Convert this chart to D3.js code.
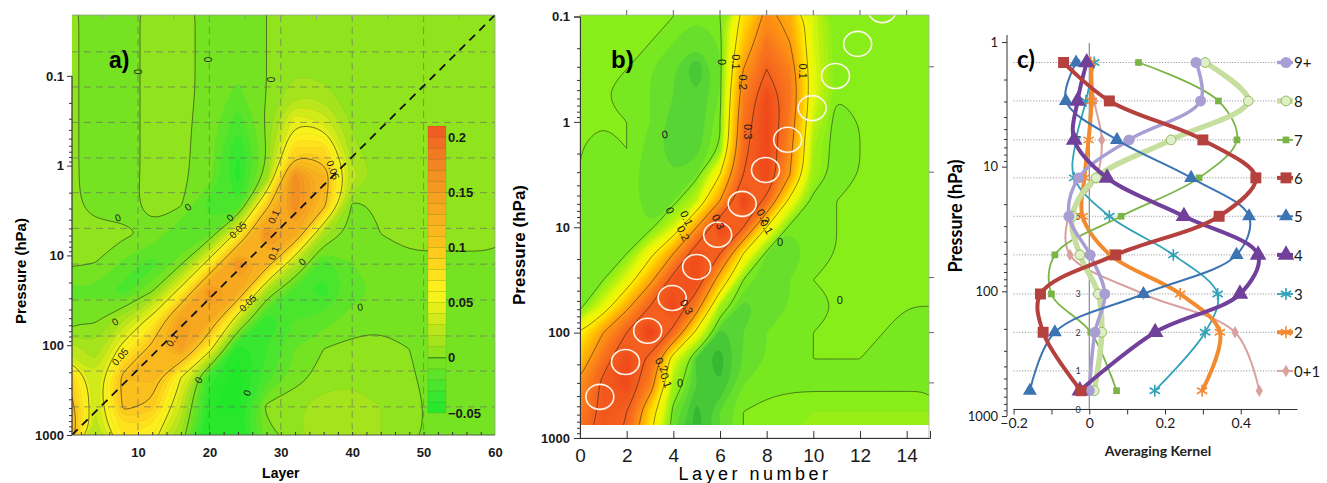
<!DOCTYPE html>
<html>
<head>
<meta charset="utf-8">
<script src="https://cdn.jsdelivr.net/npm/d3@7"></script>
<style>
  body { margin: 0; background: #fff; }
  svg { display: block; }
</style>
</head>
<body>
<svg id="chart" width="1327" height="483"></svg>
<script>
// ---------------- panel a : averaging kernel field (layer x pressure) ----------------
const layersA = [0, 4, 8, 12, 16, 20, 24, 28, 32, 36, 40, 44, 48, 52, 56, 60];
const logpA = [3.0, 2.68, 2.36, 2.04, 1.72, 1.4, 1.08, 0.76, 0.44, 0.12, -0.2, -0.52, -0.84, -1.16, -1.48, -1.8];
// rows from 1000 hPa upwards, columns follow layersA
const fieldA = [
  [0.14, 0.025, 0.07, 0.06, 0.01, -0.05, -0.045, -0.005, 0.008, 0.018, 0.015, 0.01, 0.003, -0.004, -0.004, -0.003],
  [0.13, 0.03, 0.105, 0.095, 0.03, -0.05, -0.055, 0.003, 0.008, 0.015, 0.015, 0.01, 0.003, -0.003, -0.004, -0.003],
  [0.1, 0.03, 0.11, 0.115, 0.05, -0.035, -0.055, -0.025, -0.005, 0.005, 0.008, 0.006, 0.001, -0.003, -0.004, -0.003],
  [0.03, 0.012, 0.06, 0.11, 0.145, 0.06, -0.05, -0.03, -0.01, 0.0, 0.003, 0.003, 0.0, -0.002, -0.003, -0.003],
  [-0.005, -0.002, 0.02, 0.06, 0.15, 0.13, 0.03, -0.04, -0.02, -0.015, -0.005, -0.002, -0.002, -0.002, -0.002, -0.002],
  [-0.012, -0.012, -0.025, 0.0, 0.06, 0.16, 0.13, 0.015, -0.025, -0.035, -0.015, -0.008, -0.006, -0.005, -0.005, -0.005],
  [0.003, 0.0, -0.012, -0.025, -0.005, 0.06, 0.16, 0.12, 0.025, -0.025, -0.01, -0.005, -0.002, -0.002, -0.002, -0.002],
  [0.003, 0.003, 0.002, -0.002, -0.02, -0.015, 0.06, 0.165, 0.13, 0.015, -0.005, 0.0, 0.003, 0.003, 0.003, 0.003],
  [0.003, -0.003, -0.003, 0.003, 0.001, -0.025, -0.03, 0.09, 0.17, 0.11, -0.003, 0.002, 0.003, 0.003, 0.003, 0.003],
  [0.003, -0.004, -0.004, 0.003, 0.002, -0.005, -0.045, 0.005, 0.165, 0.12, 0.025, 0.005, 0.003, 0.003, 0.003, 0.003],
  [0.003, -0.004, -0.004, 0.003, 0.002, -0.004, -0.04, 0.0, 0.08, 0.08, 0.012, 0.004, 0.003, 0.003, 0.003, 0.003],
  [0.003, -0.004, -0.004, 0.003, 0.002, -0.003, -0.025, 0.003, 0.045, 0.035, 0.008, 0.004, 0.003, 0.003, 0.003, 0.003],
  [0.003, -0.004, -0.004, 0.003, 0.002, -0.002, -0.012, 0.0, 0.015, 0.012, 0.005, 0.003, 0.003, 0.003, 0.003, 0.003],
  [0.003, -0.004, -0.004, 0.003, 0.002, -0.002, -0.006, 0.0, 0.006, 0.005, 0.003, 0.003, 0.003, 0.003, 0.003, 0.003],
  [0.003, -0.004, -0.004, 0.003, 0.002, -0.002, -0.004, 0.0, 0.004, 0.004, 0.003, 0.003, 0.003, 0.003, 0.003, 0.003],
  [0.003, -0.004, -0.004, 0.003, 0.002, -0.002, -0.004, 0.0, 0.004, 0.004, 0.003, 0.003, 0.003, 0.003, 0.003, 0.003]
];
const gridLayersA = [10, 20, 30, 40, 50];
const gridPressA = [486, 194, 79, 31.4, 12.5, 5.0, 2.0, 0.82, 0.33, 0.133, 0.054];
const pTicksA = [0.1, 1, 10, 100, 1000];
const xTicksA = [10, 20, 30, 40, 50, 60];
const cbTicksA = [-0.05, 0, 0.05, 0.1, 0.15, 0.2];
const stopValsA = [-0.05, -0.03, -0.01, 0, 0.02, 0.04, 0.06, 0.08, 0.1, 0.13, 0.16, 0.19, 0.21];
const stopColsA = ["#22e82a", "#40e630", "#66e224", "#84e41e", "#b0e41c", "#dcec18", "#fff41c", "#ffdc1e", "#fcc41e", "#f8ac20", "#f49422", "#f27424", "#ef5522"];
// [layer, pressure, text, angle]
const labelsA = [
  [10, 0.09, "0", 90], [19.7, 0.066, "0", 90], [28.5, 0.11, "0", 90],
  [7.2, 3.8, "0", -20], [17.0, 2.9, "0", -35], [22.9, 3.8, "0", -40],
  [24.0, 5.2, "0.05", -45], [29.0, 3.7, "0.1", -65], [29.0, 9.4, "0.1", -70],
  [37.3, 1.12, "0.05", 70], [33.0, 11.8, "0", -45], [25.4, 34, "0.05", -45],
  [41.1, 37.6, "0", -10], [6.8, 55, "0", -30], [14.8, 87, "0.1", -60],
  [7.5, 135, "0.05", -50], [18.5, 245, "0", -60], [25.3, 340, "0", -70], [51.2, 10.7, "0", 0]
];

// ---------------- panel b : Umkehr kernel field ----------------
const layersB = [0, 1, 2, 3, 4, 5, 6, 7, 8, 9, 10, 11, 12, 13, 14, 15];
const logpB = [3.0, 2.75, 2.5, 2.25, 2.0, 1.75, 1.5, 1.25, 1.0, 0.75, 0.5, 0.25, 0.0, -0.25, -0.5, -0.75, -1.0];
const fieldB = [
  [0.28, 0.33, 0.29, 0.11, -0.02, -0.045, -0.02, 0.0, 0.01, 0.01, 0.01, 0.01, 0.01, 0.01, 0.01, 0.01],
  [0.24, 0.32, 0.3, 0.13, -0.01, -0.045, -0.02, 0.0, 0.005, 0.008, 0.01, 0.01, 0.01, 0.01, 0.01, 0.01],
  [0.22, 0.32, 0.36, 0.24, 0.02, -0.03, -0.04, -0.01, -0.005, -0.003, -0.003, -0.003, -0.003, -0.003, -0.003, -0.003],
  [0.15, 0.27, 0.36, 0.28, 0.06, -0.035, -0.045, -0.02, -0.01, -0.002, 0.0, 0.0, 0.0, -0.002, -0.003, -0.003],
  [0.1, 0.2, 0.3, 0.38, 0.28, 0.08, -0.035, -0.02, -0.01, -0.002, 0.0, 0.0, 0.0, 0.0, -0.002, -0.002],
  [-0.01, 0.06, 0.18, 0.3, 0.37, 0.24, 0.02, -0.025, -0.015, -0.01, -0.002, 0.0, 0.0, 0.0, 0.0, 0.0],
  [-0.01, 0.0, 0.06, 0.18, 0.33, 0.35, 0.16, 0.0, -0.02, -0.01, 0.0, 0.0, 0.0, 0.0, 0.0, 0.0],
  [-0.005, -0.005, 0.0, 0.08, 0.2, 0.35, 0.3, 0.1, -0.01, -0.02, -0.005, 0.0, 0.0, 0.0, 0.0, 0.0],
  [0.0, -0.005, -0.005, -0.01, 0.05, 0.2, 0.37, 0.3, 0.1, -0.01, -0.01, 0.0, 0.0, 0.0, 0.0, 0.0],
  [0.0, -0.005, -0.005, -0.015, -0.01, 0.04, 0.2, 0.37, 0.28, 0.08, -0.01, 0.0, 0.0, 0.0, 0.0, 0.0],
  [0.0, -0.005, -0.005, -0.015, -0.02, -0.01, 0.1, 0.3, 0.37, 0.2, 0.02, -0.01, 0.0, 0.0, 0.0, 0.0],
  [0.0, -0.005, 0.0, -0.015, -0.025, -0.025, 0.0, 0.28, 0.36, 0.22, 0.02, -0.01, 0.0, 0.0, 0.0, 0.0],
  [0.0, 0.0, 0.0, -0.01, -0.025, -0.03, 0.0, 0.26, 0.37, 0.24, 0.04, -0.01, 0.0, 0.0, 0.0, 0.0],
  [0.0, 0.0, -0.005, -0.01, -0.02, -0.03, -0.01, 0.24, 0.35, 0.26, 0.06, 0.0, 0.0, 0.0, 0.0, 0.0],
  [0.0, 0.0, 0.0, -0.01, -0.02, -0.04, -0.01, 0.2, 0.3, 0.24, 0.06, 0.0, 0.0, 0.0, 0.0, 0.0],
  [0.0, 0.0, 0.0, 0.0, -0.01, -0.02, -0.01, 0.15, 0.26, 0.2, 0.05, 0.0, 0.0, 0.0, 0.0, 0.0],
  [0.0, 0.0, 0.0, 0.0, 0.0, -0.01, 0.0, 0.12, 0.22, 0.18, 0.05, 0.0, 0.0, 0.0, 0.0, 0.0]
];
const fieldBottomB = 750;
const circleLayersB = [0.85, 1.95, 2.9, 3.95, 5.0, 5.9, 6.95, 7.95, 8.9, 9.95, 10.95, 11.9, 12.95];
const circlePressB = [407, 190, 96, 47, 23.8, 11.8, 6.0, 2.86, 1.48, 0.74, 0.367, 0.182, 0.087];
const pTicksB = [0.1, 1, 10, 100, 1000];
const xTicksB = [0, 2, 4, 6, 8, 10, 12, 14];
const rightTicksB = [0.3, 3, 30, 100, 300];
const stopValsB = [-0.05, -0.03, 0, 0.03, 0.06, 0.1, 0.15, 0.2, 0.25, 0.3, 0.38];
const stopColsB = ["#2fb02f", "#4fd03a", "#80ee1c", "#b0f010", "#e8f808", "#fff200", "#ffc400", "#ff9a10", "#f97a1c", "#f4601e", "#ec421a"];
const labelsB = [
  [6.07, 0.27, "0", 90], [6.7, 0.27, "0.1", 90], [7.0, 0.42, "0.2", 90], [9.57, 0.33, "0.1", 90],
  [3.64, 1.31, "0", -10], [7.2, 1.24, "0.3", 90], [3.86, 6.9, "0", 65], [4.57, 8.2, "0.1", 65],
  [4.43, 11.4, "0.2", 65], [5.93, 8.85, "0.3", 65], [7.86, 7.9, "0.2", 60], [8.0, 9.9, "0.1", 60],
  [8.57, 13.7, "0", 0], [4.57, 57, "0.3", 60], [11.14, 49, "0", 0], [3.5, 202, "0.2", 60],
  [3.7, 283, "0.1", 70], [4.29, 302, "0", 0]
];

// ---------------- panel c : averaging kernel profiles ----------------
const levelsC = [1.46, 2.97, 6.1, 12.3, 25, 51, 105, 213, 627];
const gridPressC = [1.46, 2.97, 6.1, 12.3, 25, 51, 105, 213, 435, 883];
const gridNamesC = ["9", "8", "7", "6", "5", "4", "3", "2", "1", "0"];
const s9 = [0.282, 0.294, 0.105, -0.028, -0.054, 0.002, 0.041, 0.015, 0.0];
const s8 = [0.306, 0.42, 0.216, 0.018, -0.045, -0.025, 0.024, 0.033, 0.013];
const s7 = [0.13, 0.341, 0.39, 0.29, 0.084, -0.091, -0.1, 0.004, 0.072];
const s6 = [-0.068, 0.053, 0.3, 0.44, 0.343, 0.07, -0.129, -0.122, -0.022];
const s5 = [-0.035, -0.062, 0.073, 0.269, 0.422, 0.389, 0.143, -0.091, -0.157];
const s4 = [-0.007, -0.031, -0.04, 0.047, 0.25, 0.446, 0.398, 0.174, -0.025];
const s3 = [0.013, -0.009, -0.035, -0.04, 0.053, 0.222, 0.339, 0.306, 0.173];
const s2 = [0.004, 0.006, -0.002, -0.013, -0.018, 0.055, 0.24, 0.345, 0.298];
const s01 = [0.0, 0.013, 0.033, 0.018, -0.054, -0.051, 0.143, 0.385, 0.449];
const xTicksC = [-0.2, -0.1, 0, 0.1, 0.2, 0.3, 0.4, 0.5];
const xLabelsC = [-0.2, 0, 0.2, 0.4];
const pTicksC = [1, 10, 100, 1000];
const legendOrderC = ["9+", "8", "7", "6", "5", "4", "3", "2", "0+1"];

// ====================================================================
const svg = d3.select("#chart");
const defs = svg.append("defs");
const fontAB = "'Liberation Sans', Arial, sans-serif";
const fontC = "Lato, 'Liberation Sans', sans-serif";

function minorTicks(lo, hi) {
  const t = [];
  for (let e = lo; e < hi; e++) for (let k = 2; k <= 9; k++) t.push(+(k * Math.pow(10, e)).toPrecision(3));
  return t;
}
function ringPath(ring, px) {
  return d3.line().curve(d3.curveBasisClosed)(ring.slice(0, -1).map(px));
}
function geomPath(geom, px) {
  return geom.coordinates.map(poly => poly.map(r => ringPath(r, px)).join("")).join("");
}
function drawField(g, field, layers, logps, xs, ys, thresholds, step, color) {
  const ny = field.length, nx = field[0].length;
  const gx = d3.scaleLinear().domain([0.5, nx - 0.5]).range([layers[0], layers[nx - 1]]);
  const gy = d3.scaleLinear().domain([0.5, ny - 0.5]).range([logps[0], logps[ny - 1]]);
  const px = d => [xs(gx(d[0])), ys(Math.pow(10, gy(d[1])))];
  const values = field.flat();
  const bands = d3.contours().size([nx, ny]).thresholds(thresholds)(values);
  g.selectAll("path.band").data(bands).join("path")
    .attr("class", "band")
    .attr("d", d => geomPath(d, px))
    .attr("fill", d => color(d.value + step / 2))
    .attr("fill-rule", "evenodd");
  return (levels) => d3.contours().size([nx, ny]).thresholds(levels)(values).map(d => ({value: d.value, d: geomPath(d, px)}));
}
function drawLabels(g, labels, xs, ys, size) {
  g.selectAll("text.clab").data(labels).join("text")
    .attr("class", "clab")
    .attr("transform", d => `translate(${xs(d[0])},${ys(d[1])}) rotate(${d[3]})`)
    .attr("text-anchor", "middle")
    .attr("dominant-baseline", "central")
    .attr("font-family", fontAB)
    .attr("font-size", size)
    .attr("fill", "#1c1c1c")
    .text(d => d[2]);
}

// ======================= panel a =======================
const xA = d3.scaleLinear().domain([0.76, 60]).range([72, 495]);
const yA = d3.scaleLog().domain([1000, 0.021]).range([435, 15]);
const colorA = d3.scaleLinear().domain(stopValsA).range(stopColsA).clamp(true);
defs.append("clipPath").attr("id", "clipA").append("rect")
  .attr("x", 72).attr("y", 15).attr("width", 423).attr("height", 420);

const gA = svg.append("g").attr("clip-path", "url(#clipA)");
const thrA = d3.range(-6, 21).map(k => k / 100);
const linesA = drawField(gA, fieldA, layersA, logpA, xA, yA, thrA, 0.01, colorA);
gA.append("g").selectAll("path").data(linesA(thrA.filter(t => t > 0.005))).join("path")
  .attr("d", d => d.d).attr("fill", "none").attr("stroke", "#000").attr("stroke-opacity", 0.07).attr("stroke-width", 0.6);
gA.append("g").selectAll("path").data(linesA([0, 0.05, 0.1])).join("path")
  .attr("d", d => d.d).attr("fill", "none").attr("stroke", "#111").attr("stroke-opacity", 0.75).attr("stroke-width", 0.7);
// dashed grid
gA.append("g").selectAll("line").data(gridLayersA).join("line")
  .attr("x1", d => xA(d)).attr("x2", d => xA(d)).attr("y1", 15).attr("y2", 435)
  .attr("stroke", "#666").attr("stroke-opacity", 0.6).attr("stroke-dasharray", "7,5");
gA.append("g").selectAll("line").data(gridPressA).join("line")
  .attr("x1", 72).attr("x2", 495).attr("y1", d => yA(d)).attr("y2", d => yA(d))
  .attr("stroke", "#666").attr("stroke-opacity", 0.6).attr("stroke-dasharray", "7,5");
// 1:1 diagonal
gA.append("line")
  .attr("x1", xA(xA.domain()[0])).attr("y1", yA(yA.domain()[0]))
  .attr("x2", xA(xA.domain()[1])).attr("y2", yA(yA.domain()[1]))
  .attr("stroke", "#111").attr("stroke-width", 1.8).attr("stroke-dasharray", "8,6");
drawLabels(gA, labelsA, xA, yA, 10);

// frame + axes a
svg.append("path").attr("d", "M72,15H495V435").attr("fill", "none").attr("stroke", "#999").attr("stroke-width", 0.8);
svg.append("g").selectAll("line").data(d3.range(5, 60, 5)).join("line")
  .attr("x1", d => xA(d)).attr("x2", d => xA(d)).attr("y1", 15).attr("y2", 19).attr("stroke", "#999");
svg.append("line").attr("x1", 72).attr("x2", 72).attr("y1", yA(0.1)).attr("y2", 435).attr("stroke", "#333").attr("stroke-width", 1.2);
svg.append("line").attr("x1", 72).attr("x2", 495).attr("y1", 435).attr("y2", 435).attr("stroke", "#555").attr("stroke-width", 1);
const axA = svg.append("g").attr("transform", "translate(72,0)")
  .call(d3.axisLeft(yA).tickValues(pTicksA).tickFormat(d3.format("~g")).tickSize(5).tickPadding(3))
  .call(g => g.select(".domain").remove());
svg.append("g").attr("transform", "translate(72,0)")
  .call(d3.axisLeft(yA).tickValues(minorTicks(-1, 3)).tickFormat("").tickSize(3))
  .call(g => g.select(".domain").remove());
const axAx = svg.append("g").attr("transform", "translate(0,435)")
  .call(d3.axisBottom(xA).tickValues(xTicksA).tickSize(0).tickPadding(13))
  .call(g => g.select(".domain").remove());
svg.append("g").attr("transform", "translate(0,435)")
  .call(d3.axisBottom(xA).tickValues(d3.range(2, 60, 2)).tickFormat("").tickSize(-3))
  .call(g => g.select(".domain").remove());
[axA, axAx].forEach(a => a.selectAll("text").attr("font-family", fontAB).attr("font-weight", "bold").attr("font-size", 13).attr("fill", "#1a1a1a"));
svg.selectAll(".tick line").attr("stroke", "#333");
svg.append("text").attr("x", xA(30)).attr("y", 478).attr("text-anchor", "middle")
  .attr("font-family", fontAB).attr("font-weight", "bold").attr("font-size", 14).text("Layer");
svg.append("text").attr("transform", "translate(20,271) rotate(-90)").attr("text-anchor", "middle")
  .attr("dominant-baseline", "central").attr("font-family", fontAB).attr("font-weight", "bold").attr("font-size", 15).text("Pressure (hPa)");
svg.append("text").attr("x", 109).attr("y", 68).attr("font-family", fontAB).attr("font-weight", "bold").attr("font-size", 23).text("a)");

// colour bar a
const cbY = d3.scaleLinear().domain([-0.05, 0.21]).range([413, 126]);
const cbBands = d3.range(-5, 21).map(k => k / 100);
const gCb = svg.append("g");
gCb.selectAll("rect").data(cbBands).join("rect")
  .attr("x", 428).attr("width", 18)
  .attr("y", d => cbY(d + 0.01)).attr("height", d => cbY(d) - cbY(d + 0.01))
  .attr("fill", d => colorA(d + 0.005))
  .attr("stroke", "#000").attr("stroke-opacity", 0.12).attr("stroke-width", 0.6);
gCb.append("line").attr("x1", 428).attr("x2", 446).attr("y1", cbY(0)).attr("y2", cbY(0)).attr("stroke", "#2a7a2a").attr("stroke-width", 1);
gCb.selectAll("text").data(cbTicksA).join("text")
  .attr("x", 448).attr("y", d => cbY(d)).attr("dominant-baseline", "central")
  .attr("font-family", fontAB).attr("font-weight", "bold").attr("font-size", 13).attr("fill", "#1a1a1a")
  .text(d => d3.format("~g")(d));

// ======================= panel b =======================
const xB = d3.scaleLinear().domain([0, 15]).range([580, 930]);
const yB = d3.scaleLog().domain([1000, 0.1]).range([438, 16.5]);
const colorB = d3.scaleLinear().domain(stopValsB).range(stopColsB).clamp(true);
defs.append("clipPath").attr("id", "clipB").append("rect")
  .attr("x", 580).attr("y", 15).attr("width", 349).attr("height", yB(fieldBottomB) - 15);
const gB = svg.append("g").attr("clip-path", "url(#clipB)");
const thrB = d3.range(-6, 41).map(k => k / 100);
const linesB = drawField(gB, fieldB, layersB, logpB, xB, yB, thrB, 0.01, colorB);
gB.append("g").selectAll("path").data(linesB([0, 0.1, 0.2, 0.3])).join("path")
  .attr("d", d => d.d).attr("fill", "none").attr("stroke", "#111").attr("stroke-opacity", 0.7).attr("stroke-width", 0.7);
gB.append("g").selectAll("ellipse").data(circleLayersB.map((l, i) => [l, circlePressB[i]])).join("ellipse")
  .attr("cx", d => xB(d[0])).attr("cy", d => yB(d[1])).attr("rx", 14).attr("ry", 12.5)
  .attr("fill", "none").attr("stroke", "#fff4e8").attr("stroke-width", 1.6);
drawLabels(gB, labelsB, xB, yB, 11);

svg.append("rect").attr("x", 580).attr("y", 15).attr("width", 349).attr("height", 423)
  .attr("fill", "none").attr("stroke", "#aaa").attr("stroke-width", 0.8);
svg.append("g").selectAll("line").data(xTicksB.slice(1)).join("line")
  .attr("x1", d => xB(d)).attr("x2", d => xB(d)).attr("y1", 15).attr("y2", 10).attr("stroke", "#666");
svg.append("g").selectAll("line").data(rightTicksB).join("line")
  .attr("x1", 929).attr("x2", 934).attr("y1", d => yB(d)).attr("y2", d => yB(d)).attr("stroke", "#666");
const axB = svg.append("g").attr("transform", "translate(580,0)")
  .call(d3.axisLeft(yB).tickValues(pTicksB).tickFormat(d3.format("~g")).tickSize(6).tickPadding(4));
axB.select(".domain").attr("stroke", "#333");
svg.append("g").attr("transform", "translate(580,0)")
  .call(d3.axisLeft(yB).tickValues(minorTicks(-1, 3)).tickFormat("").tickSize(3))
  .call(g => g.select(".domain").remove());
const axBx = svg.append("g").attr("transform", "translate(0,438)")
  .call(d3.axisBottom(xB).tickValues(xTicksB).tickSize(-7).tickPadding(11));
axBx.select(".domain").attr("stroke", "#333");
axB.selectAll("text").attr("font-family", fontAB).attr("font-weight", "bold").attr("font-size", 13).attr("fill", "#1a1a1a");
axBx.selectAll("text").attr("font-family", fontAB).attr("font-size", 19).attr("fill", "#1a1a1a");
svg.append("text").attr("x", 755).attr("y", 480).attr("text-anchor", "middle").attr("letter-spacing", 3.5)
  .attr("font-family", fontAB).attr("font-size", 18).text("Layer number");
svg.append("text").attr("transform", "translate(519,245) rotate(-90)").attr("text-anchor", "middle")
  .attr("dominant-baseline", "central").attr("font-family", fontAB).attr("font-weight", "bold").attr("font-size", 17).text("Pressure (hPa)");
svg.append("text").attr("x", 611).attr("y", 68).attr("font-family", fontAB).attr("font-weight", "bold").attr("font-size", 24).text("b)");

// ======================= panel c =======================
const xC = d3.scaleLinear().domain([-0.2, 0.55]).range([1013.6, 1297.5]);
const yC = d3.scaleLog().domain([1, 1000]).range([42, 416]);
const axisYC = 409.5;
const gC = svg.append("g");
gC.append("g").selectAll("line").data(gridPressC).join("line")
  .attr("x1", xC(-0.2)).attr("x2", 1280).attr("y1", d => yC(d)).attr("y2", d => yC(d))
  .attr("stroke", "#9a9a9a").attr("stroke-width", 1).attr("stroke-dasharray", "1.2,1.6");
gC.append("g").selectAll("text").data(gridPressC).join("text")
  .attr("x", 1078).attr("y", d => yC(d)).attr("text-anchor", "middle").attr("dominant-baseline", "central")
  .attr("font-family", fontC).attr("font-size", 9).attr("fill", "#333")
  .text((d, i) => gridNamesC[i]);
gC.append("line").attr("x1", xC(0)).attr("x2", xC(0)).attr("y1", 43).attr("y2", axisYC)
  .attr("stroke", "#8a8a8a").attr("stroke-width", 1.2);

const seriesC = [
  {name: "0+1", v: s01, color: "#d9a0a0", w: 2, sym: d3.symbolDiamond, size: 45},
  {name: "3", v: s3, color: "#31a3b8", w: 1.8, sym: d3.symbolAsterisk, size: 100, stroke: true},
  {name: "2", v: s2, color: "#f28a30", w: 4, sym: d3.symbolAsterisk, size: 100, stroke: true},
  {name: "7", v: s7, color: "#7bb446", w: 1.8, sym: d3.symbolSquare, size: 45},
  {name: "8", v: s8, color: "#c6df9f", w: 5.5, sym: d3.symbolCircle, size: 75, fill: "#dff0c8", outline: "#93bb60"},
  {name: "9+", v: s9, color: "#a99ed4", w: 3.5, sym: d3.symbolCircle, size: 95},
  {name: "5", v: s5, color: "#3b73b3", w: 2, sym: d3.symbolTriangle, size: 85},
  {name: "4", v: s4, color: "#70409a", w: 4, sym: d3.symbolTriangle, size: 120},
  {name: "6", v: s6, color: "#b5413f", w: 4, sym: d3.symbolSquare, size: 120}
];
const lineC = d3.line().x(d => xC(d[0])).y(d => yC(d[1])).curve(d3.curveCatmullRom.alpha(0.5));
function marker(sel, s) {
  sel.attr("d", d3.symbol().type(s.sym).size(s.size)());
  if (s.stroke) sel.attr("fill", "none").attr("stroke", s.color).attr("stroke-width", 1.6);
  else if (s.fill) sel.attr("fill", s.fill).attr("stroke", s.outline).attr("stroke-width", 1);
  else sel.attr("fill", s.color);
}
seriesC.forEach(s => {
  const pts = s.v.map((v, i) => [v, levelsC[i]]);
  const g = gC.append("g");
  g.append("path").attr("d", lineC(pts)).attr("fill", "none")
    .attr("stroke", s.color).attr("stroke-width", s.w).attr("stroke-linejoin", "round");
  g.selectAll("path.m").data(pts).join("path").attr("class", "m")
    .attr("transform", d => `translate(${xC(d[0])},${yC(d[1])})`)
    .call(sel => marker(sel, s));
});
// legend
const legC = gC.append("g");
legendOrderC.forEach((name, i) => {
  const s = seriesC.find(e => e.name === name);
  const y = yC(gridPressC[i]);
  legC.append("line").attr("x1", 1277).attr("x2", 1293).attr("y1", y).attr("y2", y)
    .attr("stroke", s.color).attr("stroke-width", s.w);
  legC.append("path").attr("transform", `translate(1286,${y})`).call(sel => marker(sel, s));
  legC.append("text").attr("x", 1294).attr("y", y).attr("dominant-baseline", "central")
    .attr("font-family", fontC).attr("font-size", 15).attr("fill", "#1a1a1a").text(name);
});
// axes c
svg.append("line").attr("x1", 1007).attr("x2", 1007).attr("y1", 35).attr("y2", 416).attr("stroke", "#333");
const axC = svg.append("g").attr("transform", "translate(1007,0)")
  .call(d3.axisLeft(yC).tickValues(pTicksC).tickFormat(d3.format("~g")).tickSize(5).tickPadding(4))
  .call(g => g.select(".domain").remove());
svg.append("g").attr("transform", "translate(1007,0)")
  .call(d3.axisLeft(yC).tickValues(minorTicks(0, 3)).tickFormat("").tickSize(3))
  .call(g => g.select(".domain").remove());
const axCx = svg.append("g").attr("transform", `translate(0,${axisYC})`)
  .call(d3.axisBottom(xC).tickValues(xTicksC).tickSize(5).tickPadding(4)
    .tickFormat(d => xLabelsC.some(v => Math.abs(v - d) < 1e-9) ? (d < 0 ? "\u2212" + Math.abs(d) : d3.format("~g")(d)) : ""));
axCx.select(".domain").attr("d", `M${xC(-0.2)},0H${xC(0.55)}`).attr("stroke", "#333");
axC.selectAll("text").attr("font-family", fontC).attr("font-size", 13).attr("fill", "#1a1a1a");
axCx.selectAll("text").attr("font-family", fontC).attr("font-size", 14).attr("fill", "#1a1a1a");
svg.selectAll(".tick line").attr("stroke", "#333");
svg.append("text").attr("x", 1158).attr("y", 456).attr("text-anchor", "middle")
  .attr("font-family", fontC).attr("font-weight", "bold").attr("font-size", 14).attr("fill", "#222").text("Averaging Kernel");
svg.append("text").attr("transform", "translate(955,216) rotate(-90)").attr("text-anchor", "middle")
  .attr("dominant-baseline", "central").attr("font-family", fontC).attr("font-weight", "bold").attr("font-size", 18).text("Pressure (hPa)");
svg.append("text").attr("x", 1017).attr("y", 68).attr("font-family", fontC).attr("font-weight", "bold").attr("font-size", 24).text("c)");
</script>
</body>
</html>
